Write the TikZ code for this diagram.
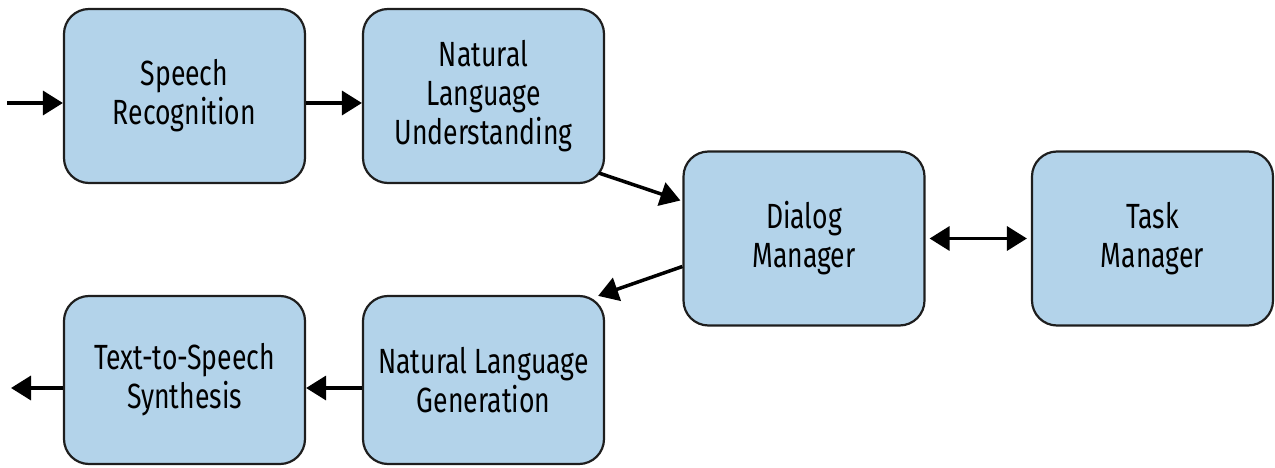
\documentclass[tikz,border=0pt]{standalone}
\usepackage{fontspec}
\setmainfont{Fira Sans}[FakeStretch=0.76]
\usetikzlibrary{arrows.meta}
\definecolor{boxblue}{RGB}{179,211,234}
\definecolor{edge}{RGB}{30,30,30}
\begin{document}
\begin{tikzpicture}[x=1pt,y=-1pt,
  box/.style={draw=edge, line width=2.2pt, fill=boxblue, rounded corners=25pt,
    minimum width=241pt, align=center, inner sep=0pt,
    font=\fontsize{35}{39}\selectfont},
  toprow/.style={minimum height=174pt},
  botrow/.style={minimum height=168pt},
  conn/.style={line width=3.5pt, draw=black, -{Triangle[length=20pt,width=24pt]}},
  biconn/.style={line width=3.5pt, draw=black, {Triangle[length=20pt,width=24pt]}-{Triangle[length=20pt,width=24pt]}}]
\useasboundingbox (0,0) rectangle (1275,468);
\node[box, toprow] (sr)  at (184.5,96) {Speech\\Recognition};
\node[box, toprow] (nlu) at (483.5,96) {Natural\\Language\\Understanding};
\node[box, toprow] (dm)  at (804,238.5) {Dialog\\Manager};
\node[box, toprow] (tm)  at (1152.5,238.5) {Task\\Manager};
\node[box, botrow] (nlg) at (483.5,380) {Natural Language\\Generation};
\node[box, botrow] (tts) at (184.5,380) {Text-to-Speech\\Synthesis};
\coordinate (in) at (7,103);
\coordinate (out) at (11,388);
\draw[conn] (in) -- (in -| sr.west);
\draw[conn] ([yshift=-7pt]sr.east) -- ([yshift=-7pt]nlu.west);
\draw[conn] ([xshift=-6pt,yshift=11pt]nlu.south east) -- ([xshift=-2pt,yshift=38pt]dm.west);
\draw[conn] ([yshift=-28pt]dm.west) -- ([xshift=-7pt,yshift=-1pt]nlg.north east);
\draw[biconn, shorten <=4pt, shorten >=4pt] (dm.east) -- (tm.west);
\draw[conn] ([yshift=-8pt]nlg.west) -- ([yshift=-8pt]tts.east);
\draw[conn] (out -| tts.west) -- (out);
\end{tikzpicture}
\end{document}
